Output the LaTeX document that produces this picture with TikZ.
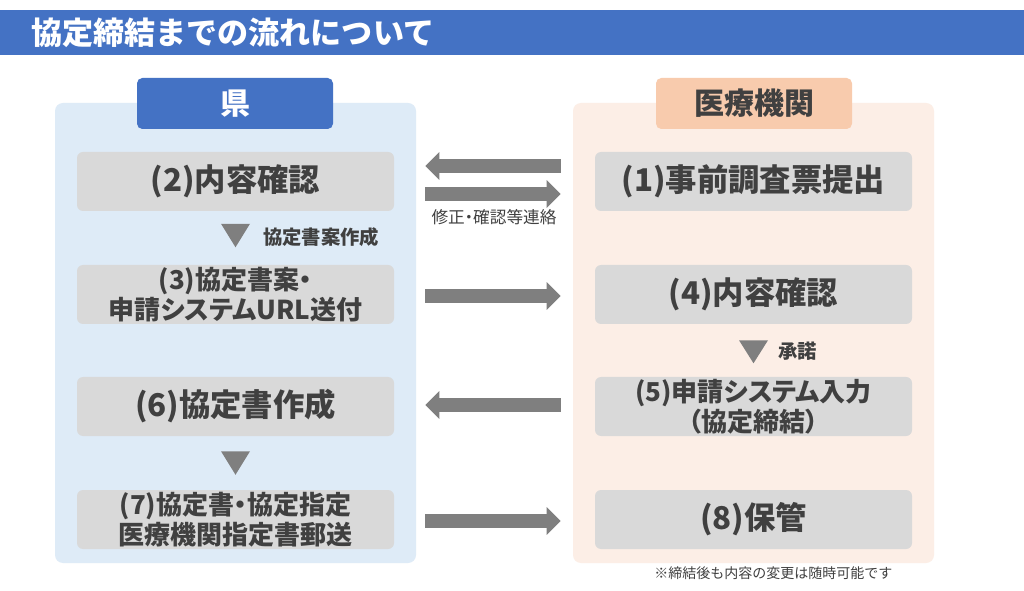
\documentclass[tikz,border=0pt]{standalone}
\usepackage{fontspec}
\setmainfont{Noto Sans CJK JP}
\newfontfamily\pfont{Noto Sans CJK JP}[RawFeature=+palt]
\usetikzlibrary{arrows.meta,calc}
\definecolor{titleblue}{HTML}{4472C4}
\definecolor{lpanel}{HTML}{DEEBF7}
\definecolor{rpanel}{HTML}{FCEEE6}
\definecolor{peach}{HTML}{F8CBAD}
\definecolor{boxgray}{HTML}{D9D9D9}
\definecolor{arrgray}{HTML}{7F7F7F}
\definecolor{txt}{HTML}{404040}
\tikzset{
  panel/.style={fill=#1, rounded corners=6pt, minimum width=270.75pt, minimum height=345pt, inner sep=0pt},
  header/.style={rounded corners=4pt, minimum width=147pt, minimum height=38.25pt, inner sep=0pt, font=\bfseries\fontsize{22.5pt}{24pt}\selectfont},
  stepbox/.style={fill=boxgray, rounded corners=4.5pt, minimum width=237.75pt, minimum height=44.25pt, inner sep=0pt, align=center, text=txt, font=\pfont\bfseries\fontsize{23.5pt}{24pt}\selectfont},
  twoline/.style={font=\pfont\bfseries\fontsize{19.5pt}{22.5pt}\selectfont},
  bigarrow/.style={draw=arrgray, line width=10.5pt, -{Triangle[length=10.5pt,width=20.25pt]}},
  downtri/.style={fill=arrgray},
  small/.style={text=txt, font=\pfont\bfseries\fontsize{14.5pt}{16pt}\selectfont, inner sep=0pt, anchor=west},
}
\begin{document}
\begin{tikzpicture}[x=0.75pt,y=-0.75pt]
\useasboundingbox (0,0) rectangle (1024,591);
\fill[white] (0,0) rectangle (1024,591);
% title
\node[fill=titleblue, minimum width=768pt, minimum height=33.75pt, inner sep=0pt] (bar) at (512,32.5) {};
\node[anchor=west, text=white, inner sep=0pt, font=\bfseries\fontsize{23.3pt}{26pt}\selectfont] (title) at (31,32.5) {協定締結までの流れについて};
% panels
\node[panel=lpanel] (lp) at (235.5,333) {};
\node[panel=rpanel] (rp) at (753.5,333) {};
\node[header, fill=titleblue, text=white] (lh) at (235,103.5) {県};
\node[header, fill=peach, text=txt] (rh) at (754,103.5) {医療機関};
% boxes
\node[stepbox] (l1) at (235.5,181.5) {(2)内容確認};
\node[stepbox, twoline] (l2) at (235.5,294.5) {(3)協定書案・\\申請システムURL送付};
\node[stepbox] (l3) at (235.5,406.5) {(6)協定書作成};
\node[stepbox, twoline] (l4) at (235.5,519.5) {(7)協定書・協定指定\\医療機関指定書郵送};
\node[stepbox] (r1) at (753.5,181.5) {(1)事前調査票提出};
\node[stepbox] (r2) at (753.5,294.5) {(4)内容確認};
\node[stepbox, twoline] (r3) at (753.5,406.5) {(5)申請システム入力\\（協定締結）};
\node[stepbox] (r4) at (753.5,519.5) {(8)保管};
% horizontal arrows
\draw[bigarrow, shorten <=25.5pt, shorten >=23.25pt] ($(r1.west)+(0,-15.5)$) -- ($(l1.east)+(0,-15.5)$);
\draw[bigarrow, shorten <=23.25pt, shorten >=25.5pt] ($(l1.east)+(0,12.5)$) -- ($(r1.west)+(0,12.5)$);
\node[text=txt, inner sep=0pt, font=\pfont\fontsize{12.5pt}{14pt}\selectfont] (lab1) at (494,217) {修正・確認等連絡};
\draw[bigarrow, shorten <=23.25pt, shorten >=25.5pt] ($(l2.east)+(0,1.5)$) -- ($(r2.west)+(0,1.5)$);
\draw[bigarrow, shorten <=25.5pt, shorten >=23.25pt] ($(r3.west)+(0,-1.5)$) -- ($(l3.east)+(0,-1.5)$);
\draw[bigarrow, shorten <=23.25pt, shorten >=25.5pt] ($(l4.east)+(0,1.5)$) -- ($(r4.west)+(0,1.5)$);
% down triangles
\fill[downtri] ($(l1.south)+(-14.5,12.5)$) -- ++(29,0) -- ++(-14.5,23.5) -- cycle;
\node[small] (lab2) at (263,237) {協定書案作成};
\fill[downtri] ($(l3.south)+(-14.5,15)$) -- ++(29,0) -- ++(-14.5,23.5) -- cycle;
\fill[downtri] ($(r2.south)+(-14.5,16)$) -- ++(29,0) -- ++(-14.5,23) -- cycle;
\node[small] (lab3) at (778,351) {承諾};
% footnote
\node[anchor=west, text=txt, inner sep=0pt, font=\fontsize{10.5pt}{12pt}\selectfont] (note) at (654,573) {※締結後も内容の変更は随時可能です};
\end{tikzpicture}
\end{document}
